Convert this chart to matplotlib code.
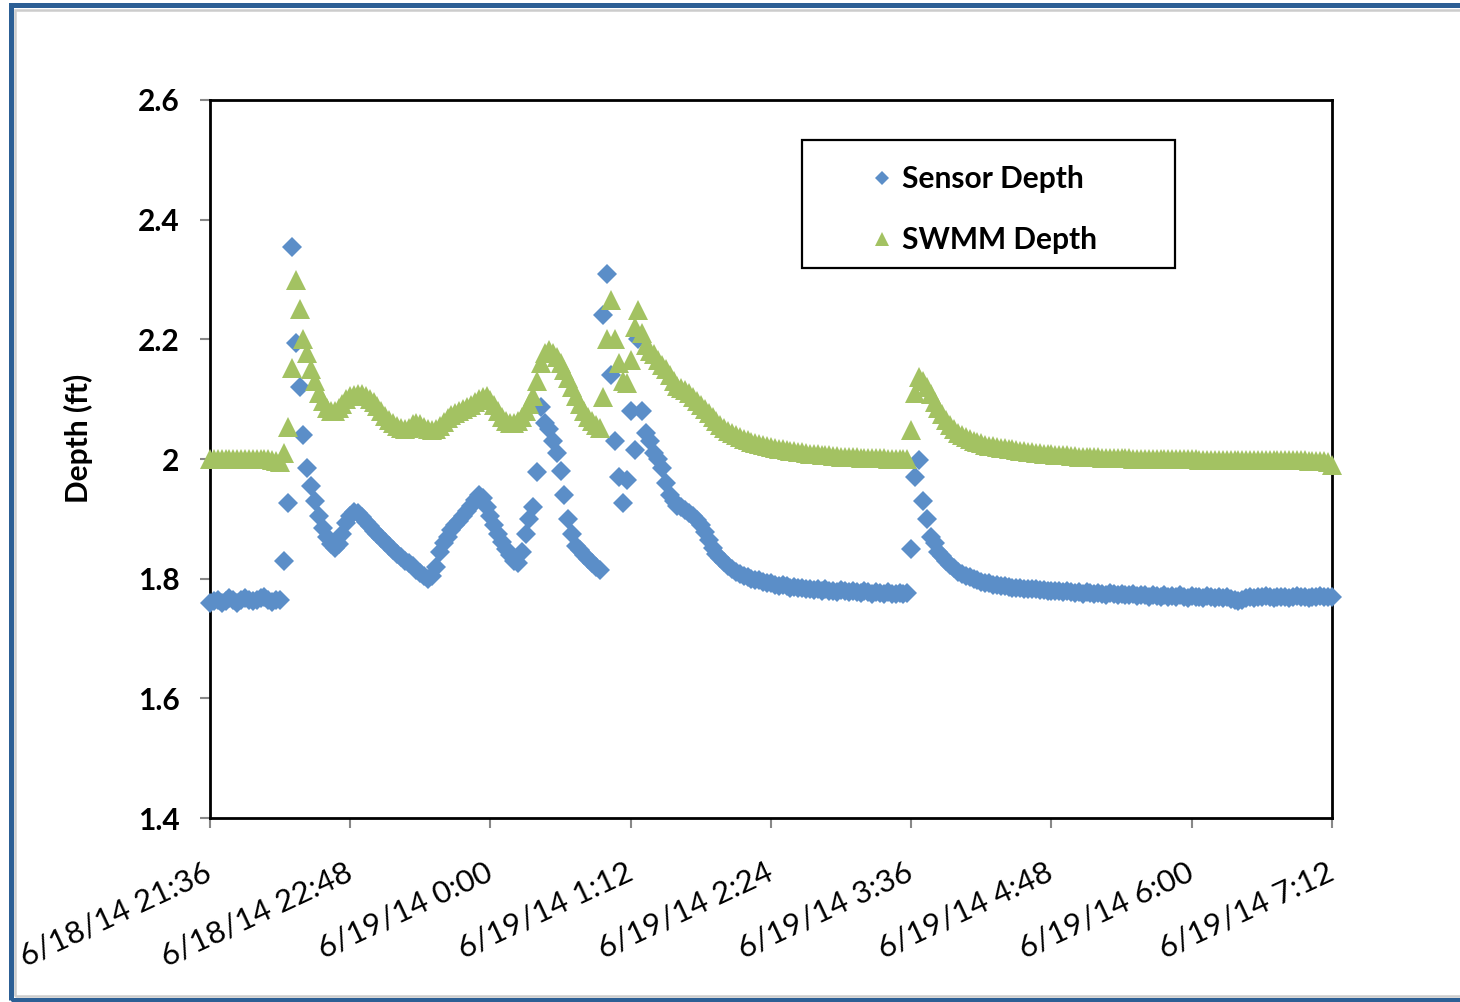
import numpy as np
import pandas as pd
import matplotlib
matplotlib.use('Agg')
import matplotlib.pyplot as plt
import matplotlib.dates as mdates
from matplotlib.patches import Rectangle

# Depth readings logged every 2 minutes starting 6/18/14 21:36
start_time = '2014-06-18 21:36'
step = '2min'

sensor_depth = [
    1.76, 1.762, 1.765, 1.76, 1.763, 1.768, 1.765, 1.76, 1.764, 1.768, 1.765, 1.762,
    1.765, 1.767, 1.77, 1.765, 1.761, 1.765, 1.765, 1.83, 1.926, 2.354, 2.194, 2.12,
    2.04, 1.985, 1.955, 1.93, 1.905, 1.885, 1.87, 1.858, 1.852, 1.858, 1.875, 1.893,
    1.905, 1.912, 1.91, 1.903, 1.895, 1.888, 1.88, 1.874, 1.868, 1.862, 1.855, 1.848,
    1.842, 1.836, 1.83, 1.826, 1.822, 1.815, 1.81, 1.805, 1.80, 1.805, 1.82, 1.845,
    1.86, 1.87, 1.882, 1.89, 1.897, 1.905, 1.913, 1.922, 1.932, 1.94, 1.935, 1.92,
    1.905, 1.89, 1.875, 1.862, 1.85, 1.84, 1.83, 1.826, 1.845, 1.875, 1.9, 1.92,
    1.978, 2.087, 2.06, 2.05, 2.03, 2.01, 1.98, 1.94, 1.9, 1.875, 1.855, 1.848,
    1.84, 1.833, 1.826, 1.82, 1.815, 2.24, 2.31, 2.14, 2.03, 1.97, 1.926, 1.965,
    2.08, 2.015, 2.2, 2.08, 2.043, 2.03, 2.01, 2.0, 1.985, 1.96, 1.94, 1.93,
    1.922, 1.92, 1.915, 1.91, 1.905, 1.898, 1.89, 1.878, 1.864, 1.852, 1.842, 1.835,
    1.828, 1.822, 1.817, 1.812, 1.808, 1.805, 1.802, 1.80, 1.798, 1.797, 1.795, 1.793,
    1.792, 1.79, 1.788, 1.79, 1.787, 1.785, 1.786, 1.784, 1.785, 1.782, 1.783, 1.781,
    1.782, 1.78, 1.782, 1.779, 1.78, 1.778, 1.781, 1.779, 1.777, 1.78, 1.778, 1.776,
    1.779, 1.777, 1.775, 1.778, 1.776, 1.774, 1.777, 1.775, 1.774, 1.776, 1.775, 1.776,
    1.85, 1.97, 1.998, 1.93, 1.90, 1.87, 1.86, 1.845, 1.838, 1.83, 1.823, 1.818,
    1.812, 1.808, 1.805, 1.802, 1.80, 1.797, 1.795, 1.793, 1.792, 1.79, 1.789, 1.788,
    1.787, 1.786, 1.785, 1.785, 1.784, 1.783, 1.783, 1.782, 1.782, 1.781, 1.781, 1.78,
    1.78, 1.779, 1.78, 1.778, 1.779, 1.777, 1.776, 1.778, 1.775, 1.777, 1.776, 1.774,
    1.776, 1.775, 1.773, 1.776, 1.774, 1.772, 1.775, 1.773, 1.772, 1.774, 1.771, 1.773,
    1.772, 1.77, 1.773, 1.771, 1.77, 1.772, 1.769, 1.771, 1.77, 1.772, 1.77, 1.768,
    1.771, 1.769, 1.77, 1.768, 1.771, 1.769, 1.768, 1.77, 1.767, 1.769, 1.766, 1.765,
    1.763, 1.764, 1.767, 1.769, 1.768, 1.77, 1.769, 1.771, 1.77, 1.768, 1.77, 1.769,
    1.77, 1.768, 1.77, 1.771, 1.769, 1.77, 1.768, 1.77, 1.769, 1.771, 1.77, 1.769, 1.77,
]

swmm_depth = [
    2.0, 2.0, 2.0, 2.0, 2.0, 2.0, 2.0, 2.0, 2.0, 2.0, 2.0, 2.0,
    2.0, 2.0, 2.0, 2.0, 1.998, 1.997, 1.995, 2.01, 2.053, 2.152, 2.3, 2.25,
    2.2, 2.177, 2.15, 2.13, 2.11, 2.097, 2.085, 2.08, 2.08, 2.085, 2.092, 2.1,
    2.105, 2.107, 2.108, 2.108, 2.105, 2.1, 2.095, 2.088, 2.08, 2.072, 2.065, 2.06,
    2.055, 2.052, 2.05, 2.052, 2.058, 2.06, 2.058, 2.054, 2.05, 2.048, 2.05, 2.055,
    2.062, 2.068, 2.073, 2.077, 2.08, 2.083, 2.087, 2.09, 2.095, 2.1, 2.104, 2.105,
    2.098, 2.09, 2.08, 2.07, 2.064, 2.06, 2.06, 2.063, 2.07, 2.08, 2.092, 2.105,
    2.13, 2.16, 2.178, 2.182, 2.178, 2.17, 2.16, 2.148, 2.135, 2.12, 2.105, 2.092,
    2.08, 2.07, 2.063, 2.057, 2.052, 2.104, 2.2, 2.266, 2.2, 2.16, 2.13, 2.127,
    2.165, 2.22, 2.249, 2.21, 2.19, 2.18, 2.175, 2.165, 2.157, 2.15, 2.14, 2.13,
    2.122, 2.118, 2.115, 2.11, 2.104, 2.097, 2.09, 2.084, 2.077, 2.07, 2.063, 2.057,
    2.052, 2.047, 2.043, 2.04, 2.037, 2.034, 2.031, 2.029, 2.027, 2.025, 2.023, 2.021,
    2.02, 2.018, 2.017, 2.016, 2.015, 2.014, 2.013, 2.012, 2.011, 2.01, 2.009, 2.008,
    2.008, 2.007, 2.006, 2.006, 2.005, 2.005, 2.004, 2.004, 2.003, 2.003, 2.003, 2.002,
    2.002, 2.002, 2.002, 2.001, 2.001, 2.001, 2.0, 2.0, 2.0, 2.0, 2.0, 2.0,
    2.049, 2.11, 2.137, 2.13, 2.12, 2.108, 2.095, 2.085, 2.075, 2.065, 2.057, 2.05,
    2.044, 2.04, 2.036, 2.033, 2.03, 2.028, 2.026, 2.024, 2.022, 2.021, 2.02, 2.019,
    2.018, 2.017, 2.016, 2.015, 2.014, 2.013, 2.012, 2.011, 2.01, 2.01, 2.009, 2.008,
    2.008, 2.007, 2.007, 2.006, 2.006, 2.005, 2.005, 2.004, 2.004, 2.004, 2.003, 2.003,
    2.003, 2.002, 2.002, 2.002, 2.002, 2.001, 2.001, 2.001, 2.001, 2.0, 2.0, 2.0,
    2.0, 2.0, 2.0, 2.0, 2.0, 2.0, 2.0, 2.0, 2.0, 2.0, 2.0, 2.0,
    2.0, 2.0, 1.999, 1.999, 1.999, 1.999, 1.999, 1.999, 1.998, 1.998, 1.998, 1.998,
    1.998, 1.998, 1.998, 1.998, 1.998, 1.998, 1.998, 1.998, 1.998, 1.998, 1.998, 1.998,
    1.998, 1.998, 1.998, 1.998, 1.998, 1.998, 1.997, 1.997, 1.997, 1.997, 1.996, 1.995, 1.99,
]

tick_times = ['2014-06-18 21:36', '2014-06-18 22:48', '2014-06-19 00:00',
              '2014-06-19 01:12', '2014-06-19 02:24', '2014-06-19 03:36',
              '2014-06-19 04:48', '2014-06-19 06:00', '2014-06-19 07:12']
tick_labels = ['6/18/14 21:36', '6/18/14 22:48', '6/19/14 0:00', '6/19/14 1:12',
               '6/19/14 2:24', '6/19/14 3:36', '6/19/14 4:48', '6/19/14 6:00',
               '6/19/14 7:12']
y_ticks = [1.4, 1.6, 1.8, 2.0, 2.2, 2.4, 2.6]
y_tick_labels = ['1.4', '1.6', '1.8', '2', '2.2', '2.4', '2.6']

sensor_color = '#5b8ec8'
swmm_color = '#a3c262'


def main():
    plt.rcParams['font.family'] = ['Lato', 'DejaVu Sans']

    times = pd.date_range(start_time, periods=len(sensor_depth), freq=step)
    x = mdates.date2num(times.to_pydatetime())
    x_ticks = mdates.date2num(pd.to_datetime(tick_times).to_pydatetime())

    fig = plt.figure(figsize=(14.6, 10.02), dpi=100)
    ax = fig.add_axes([0.1438, 0.1836, 0.7685, 0.7166])

    ax.plot(x, sensor_depth, linestyle='none', marker='D', markersize=10,
            color=sensor_color, markeredgewidth=0, clip_on=False,
            label='Sensor Depth', zorder=3)
    ax.plot(x, swmm_depth, linestyle='none', marker='^', markersize=14,
            color=swmm_color, markeredgewidth=0, clip_on=False,
            label='SWMM Depth', zorder=4)

    ax.set_xlim(x_ticks[0], x_ticks[-1])
    ax.set_ylim(1.4, 2.6)

    ax.set_yticks(y_ticks, labels=y_tick_labels, fontsize=21.5, fontweight='bold')
    ax.set_xticks(x_ticks, labels=tick_labels, fontsize=22.5, rotation=25,
                  ha='right', va='center', rotation_mode='anchor')
    ax.tick_params(axis='y', direction='out', length=7, width=1.5,
                   color='#888888', pad=15)
    ax.tick_params(axis='x', direction='out', length=7, width=1.5,
                   color='#888888', pad=31)

    for side in ['left', 'right', 'top', 'bottom']:
        ax.spines[side].set_linewidth(2)
        ax.spines[side].set_color('black')

    fig.text(78 / 1460, 1 - 438 / 1002, 'Depth (ft)', rotation=90,
             ha='center', va='center', fontsize=21.5, fontweight='bold')

    # legend box drawn separately so the padding can be wider than the text
    ax.add_patch(Rectangle((0.5276, 0.766), 0.3325, 0.178, transform=ax.transAxes,
                           fill=False, edgecolor='black', linewidth=1.6, zorder=5))
    ax.legend(frameon=False, loc='center', bbox_to_anchor=(0.688, 0.847),
              prop={'weight': 'bold', 'size': 21.5}, handlelength=1.0,
              handletextpad=0.15, labelspacing=1.1, markerscale=0.75,
              numpoints=1)

    # page frame around the chart
    fig.patches.append(Rectangle((10.5 / 1460, 2.5 / 1002), 1.2, 995 / 1002,
                                 transform=fig.transFigure, fill=False,
                                 edgecolor='#2c5f95', linewidth=3.6))
    fig.patches.append(Rectangle((15 / 1460, 6.5 / 1002), 1.2, 986 / 1002,
                                 transform=fig.transFigure, fill=False,
                                 edgecolor='#cccccc', linewidth=1.8))

    fig.savefig('out.png', dpi=100)


if __name__ == "__main__":
    main()
